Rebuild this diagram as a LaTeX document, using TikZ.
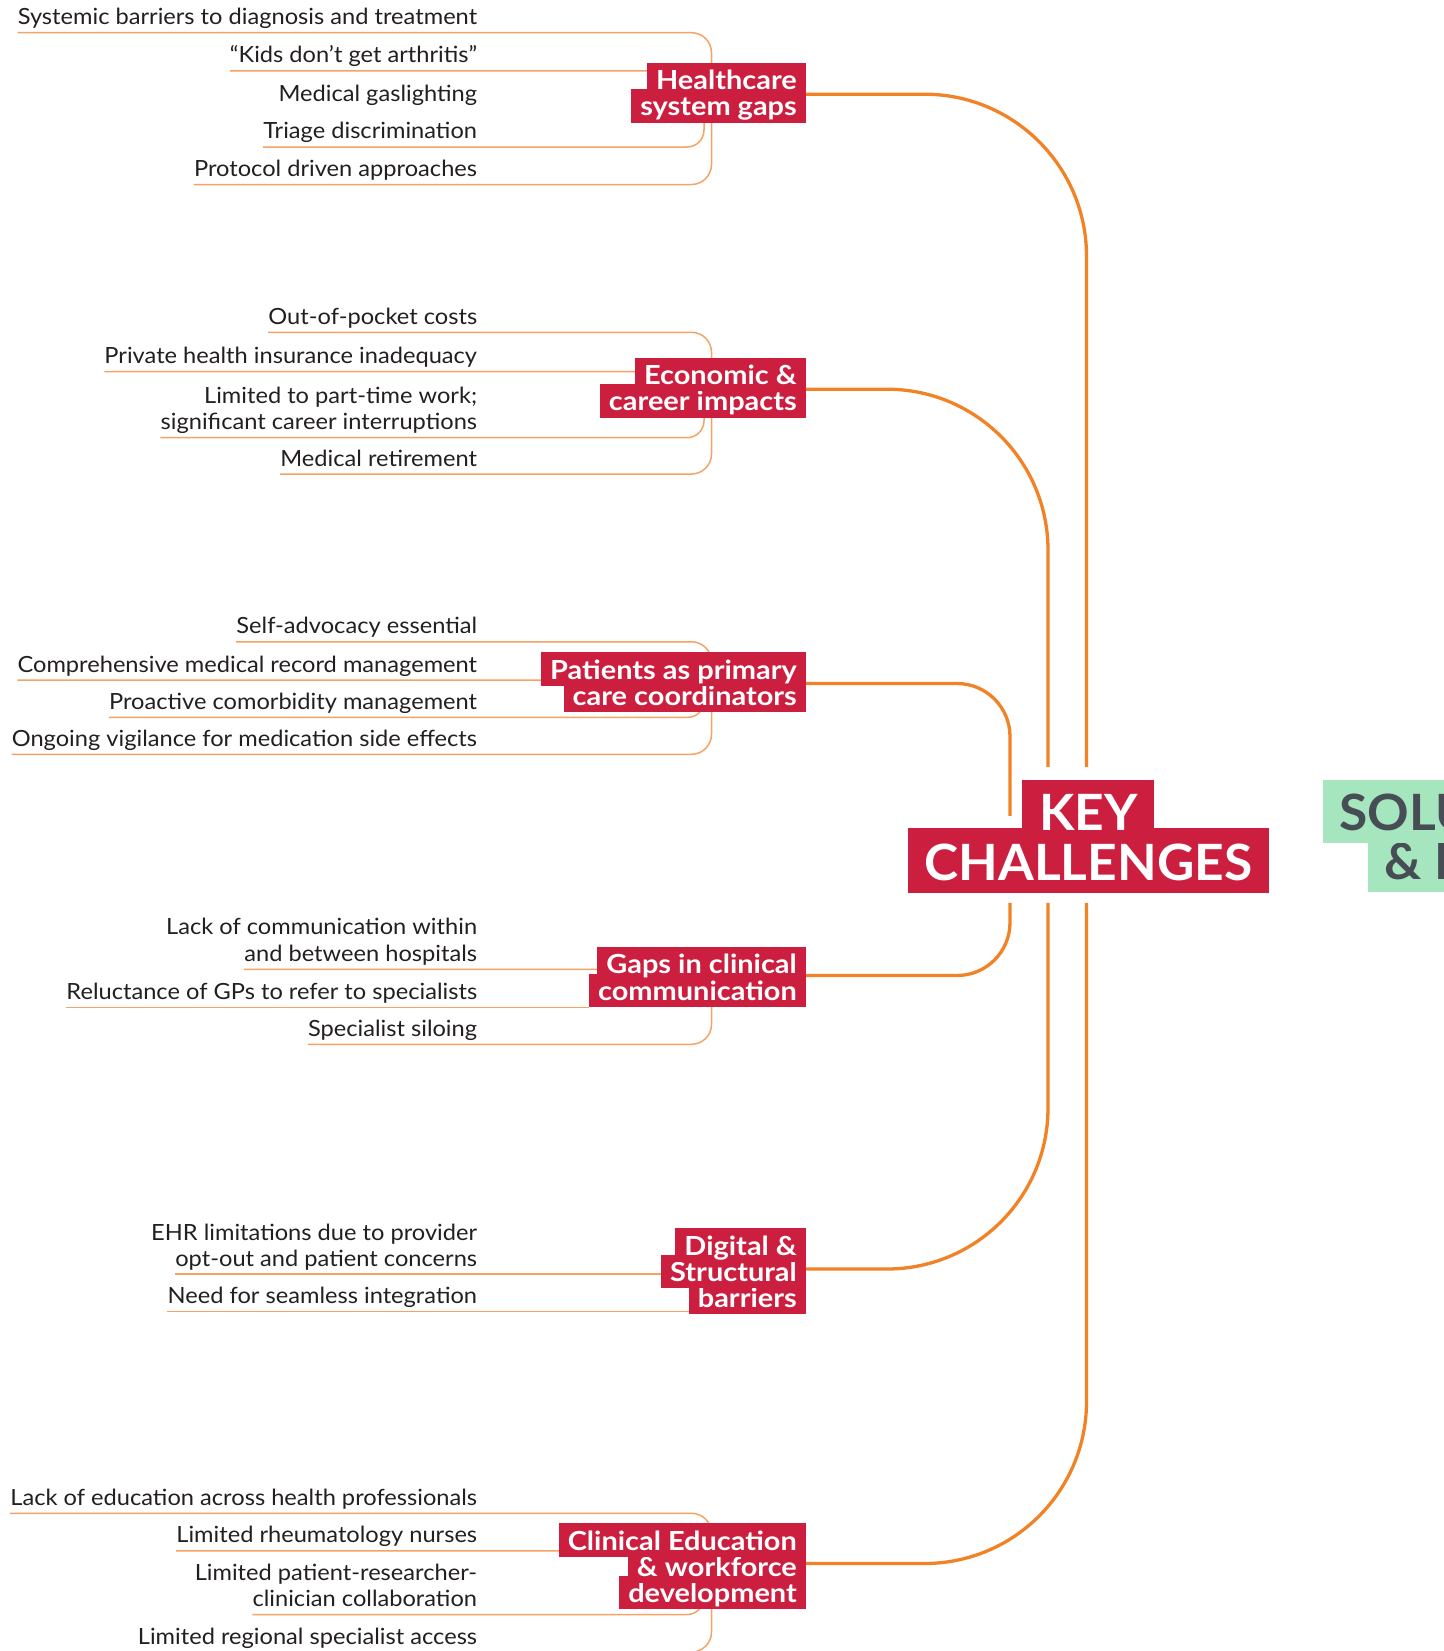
\documentclass[tikz,border=0pt]{standalone}
\usepackage{fontspec}
\setmainfont{Lato}
\newfontfamily\itemfont{Lato}[FakeStretch=1.06]
\newfontfamily\catfont{Lato}[FakeStretch=1.1]
\newfontfamily\keyfont{Lato}[FakeStretch=1.03]
\definecolor{crimson}{RGB}{204,31,64}
\definecolor{trunkorange}{RGB}{242,130,38}
\definecolor{twigorange}{RGB}{245,163,100}
\definecolor{mint}{RGB}{166,230,190}
\definecolor{slate}{RGB}{71,77,85}
\definecolor{ink}{RGB}{35,31,32}
\begin{document}
\begin{tikzpicture}[x=1pt,y=-1pt,
  item/.style={anchor=base east,inner sep=0pt,text=ink,font=\itemfont\fontsize{22.3}{24}\selectfont},
  cat/.style={anchor=base east,fill=crimson,text=white,inner xsep=9pt,inner ysep=0pt,
    text height=26.8pt,text depth=6.8pt,font=\catfont\bfseries\fontsize{26.3}{26}\selectfont},
  keybox/.style={anchor=base,fill=crimson,text=white,inner xsep=17pt,inner ysep=0pt,
    font=\keyfont\bfseries\fontsize{50}{50}\selectfont},
  solbox/.style={anchor=base west,fill=mint,text=slate,inner xsep=17pt,inner ysep=0pt,
    font=\keyfont\bfseries\fontsize{50}{50}\selectfont},
  twig/.style={draw=twigorange,line width=1.5pt},
  trunk/.style={draw=trunkorange,line width=3.3pt},
  under/.style={yshift=-8pt},
  spine/.style={xshift=234.2pt,yshift=-8pt},
  inspine/.style={xshift=226.7pt,yshift=-8pt}]
\useasboundingbox (0,0) rectangle (1443,1651);

% healthcare items
\node[item] (H1) at (477.3,24.7) {Systemic barriers to diagnosis and treatment};
\node[item] (H2) at (477.3,63) {“Kids don’t get arthritis”};
\node[item] (H3) at (477.3,101.5) {Medical gaslighting};
\node[item] (H4) at (477.3,139) {Triage discrimination};
\node[item] (H5) at (477.3,176.5) {Protocol driven approaches};
% economic items
\node[item] (E1) at (477.3,324.3) {Out-of-pocket costs};
\node[item] (E2) at (477.3,363.7) {Private health insurance inadequacy};
\node[item] (E3a) at (477.3,403.2) {Limited to part-time work;};
\node[item] (E3) at (477.3,429.7) {significant career interruptions};
\node[item] (E4) at (477.3,466) {Medical retirement};
% patient items
\node[item] (P1) at (477.3,633.8) {Self-advocacy essential};
\node[item] (P2) at (477.3,672) {Comprehensive medical record management};
\node[item] (P3) at (477.3,709.3) {Proactive comorbidity management};
\node[item] (P4) at (477.3,746.3) {Ongoing vigilance for medication side effects};
% communication items
\node[item] (G1a) at (477.3,934.8) {Lack of communication within};
\node[item] (G1) at (477.3,961.3) {and between hospitals};
\node[item] (G2) at (477.3,999.3) {Reluctance of GPs to refer to specialists};
\node[item] (G3) at (477.3,1036.3) {Specialist siloing};
% digital items
\node[item] (D1a) at (477.3,1240) {EHR limitations due to provider};
\node[item] (D1) at (477.3,1266) {opt-out and patient concerns};
\node[item] (D2) at (477.3,1303.5) {Need for seamless integration};
% education items
\node[item] (C1) at (477.3,1505.3) {Lack of education across health professionals};
\node[item] (C2) at (477.3,1542.8) {Limited rheumatology nurses};
\node[item] (C3a) at (477.3,1580.5) {Limited patient-researcher-};
\node[item] (C3) at (477.3,1606.5) {clinician collaboration};
\node[item] (C4) at (477.3,1644) {Limited regional specialist access};

% underlines and brackets
\draw[twig,rounded corners=20pt] ([under]H1.base west) -- ([spine]H1.base east) -- ([spine]H5.base east) -- ([under]H5.base west);
\draw[twig,rounded corners=17pt] ([under]H2.base west) -- ([inspine]H2.base east) -- ([inspine]H4.base east) -- ([under]H4.base west);
\draw[twig,rounded corners=20pt] ([under]E1.base west) -- ([spine]E1.base east) -- ([spine]E4.base east) -- ([under]E4.base west);
\draw[twig,rounded corners=17pt] ([under]E2.base west) -- ([inspine]E2.base east) -- ([inspine]E3.base east) -- ([under]E3.base west);
\draw[twig,rounded corners=20pt] ([under]P1.base west) -- ([spine]P1.base east) -- ([spine]P4.base east) -- ([under]P4.base west);
\draw[twig,rounded corners=16pt] ([under]P2.base west) -- ([inspine]P2.base east) -- ([inspine]P3.base east) -- ([under]P3.base west);
\draw[twig,rounded corners=20pt] ([under]G1.base west) -- ([spine]G1.base east) -- ([spine]G3.base east) -- ([under]G3.base west);
\draw[twig] ([under]D1.base west) -- ([inspine]D1.base east);
\draw[twig] ([under]D2.base west) -- ([inspine]D2.base east);
\draw[twig,rounded corners=20pt] ([under]C1.base west) -- ([spine]C1.base east) -- ([spine]C4.base east) -- ([under]C4.base west);
\draw[twig,rounded corners=17pt] ([under]C2.base west) -- ([inspine]C2.base east) -- ([inspine]C3.base east) -- ([under]C3.base west);

% category boxes, lower lines first
\node[cat] (Hb) at (806,116) {system gaps};
\node[cat] (Ha) at (806,90) {Healthcare};
\node[cat] (Eb) at (806,410.8) {career impacts};
\node[cat] (Ea) at (806,384.5) {Economic \&};
\node[cat] (Pb) at (806,705) {care coordinators};
\node[cat] (Pa) at (806,679) {Patients as primary};
\node[cat] (Gb) at (806,1000.3) {communication};
\node[cat] (Ga) at (806,973.5) {Gaps in clinical};
\node[cat] (Dc) at (806,1307.5) {barriers};
\node[cat] (Db) at (806,1281.3) {Structural};
\node[cat] (Da) at (806,1255) {Digital \&};
\node[cat] (Cc) at (806,1602.5) {development};
\node[cat] (Cb) at (806,1576.3) {\& workforce};
\node[cat] (Ca) at (806,1550) {Clinical Education};
\draw[twig] ([under]G2.base west) -- (Gb.south west);

% centre
\node[keybox,text height=52pt,text depth=12.7pt] (chal) at (1088.3,880) {CHALLENGES};
\node[keybox,text height=48pt,text depth=0pt] (key) at (1088.3,828) {\raisebox{-2.7pt}{KEY}};
\node[solbox,text height=35.7pt,text depth=13.3pt] (sol2) at (1367.7,879) {\& I\hspace*{200pt}};
\node[solbox,text height=50.7pt,text depth=12.6pt] (sol) at (1322.3,830.7) {SOLU\hspace*{200pt}};

% branches
\draw[trunk,rounded corners=162pt] ([yshift=2.8pt]Ha.south east) -| ([xshift=-1.8pt,yshift=13pt]key.north);
\draw[trunk,rounded corners=161pt] ([yshift=2.3pt]Ea.south east) -| ([xshift=-40.3pt,yshift=13pt]key.north);
\draw[trunk,rounded corners=53pt] ([yshift=2.5pt]Pa.south east) -| ([xshift=-78.3pt,yshift=12pt]chal.north);
\draw[trunk,rounded corners=53pt] ([xshift=-78.3pt,yshift=-10pt]chal.south) |- ([yshift=5pt]Ga.south east);
\draw[trunk,rounded corners=161pt] ([xshift=-40.3pt,yshift=-10pt]chal.south) |- ([yshift=2.3pt]Db.east);
\draw[trunk,rounded corners=162pt] ([xshift=-1.8pt,yshift=-10pt]chal.south) |- ([yshift=2.8pt]Cb.east);
\end{tikzpicture}
\end{document}
